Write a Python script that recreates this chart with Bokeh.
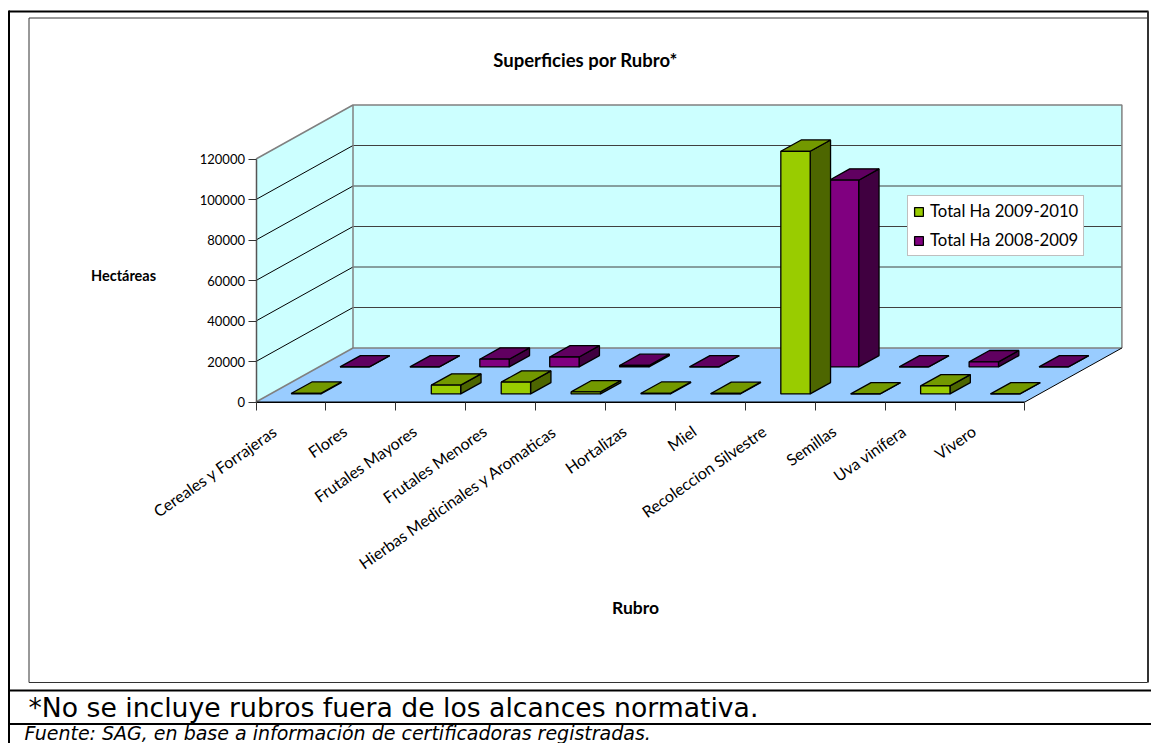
from bokeh.plotting import figure
from bokeh.embed import file_html
from bokeh.resources import INLINE
from bokeh.core.properties import value
from bokeh.models import (LinearAxis, FixedTicker, Range1d, Legend, LegendItem,
                          CustomJSTickFormatter, NumeralTickFormatter)

categories = ["Cereales y Forrajeras", "Flores", "Frutales Mayores", "Frutales Menores",
              "Hierbas Medicinales y Aromaticas", "Hortalizas", "Miel",
              "Recoleccion Silvestre", "Semillas", "Uva vinífera", "Vivero"]
ha_2009_2010 = [300, None, 4300, 5800, 1000, 300, 200, 119800, 0, 3950, 0]
ha_2008_2009 = [0, 0, 3800, 4900, 700, 0, None, 92200, 0, 2500, 0]
y_ticks = [0, 20000, 40000, 60000, 80000, 100000, 120000]
series_names = ["Total Ha 2009-2010", "Total Ha 2008-2009"]
green = dict(front="#99CC00", top="#739900", side="#4D6600")
purple = dict(front="#800080", top="#600060", side="#400040")

W, H = 1151, 743
PX_CAT = 69.9
PX_VAL = 243 / 120000
X0, Y0 = 255.5, 401.5
DEPTH_X = 97 / PX_CAT
DEPTH_Y = 54 / PX_VAL
N = len(categories)
Vmax = y_ticks[-1]

def X(px):
    return (px - X0) / PX_CAT

def Y(py):
    return (Y0 - py) / PX_VAL

p = figure(width=W, height=H, output_backend="svg", toolbar_location=None,
           x_range=Range1d(X(0), X(W)), y_range=Range1d(Y(H), Y(0)),
           x_axis_location=None, y_axis_location=None, min_border=0,
           outline_line_color=None, background_fill_color="white")
p.grid.visible = False

def proj(x, d, v):
    return x + d * DEPTH_X, v + d * DEPTH_Y

def poly(pts):
    return [a for a, _ in pts], [b for _, b in pts]

# walls and floor
sx, sy = poly([proj(0, 0, 0), proj(0, 1, 0), proj(0, 1, Vmax), proj(0, 0, Vmax)])
p.patch(sx, sy, fill_color="#CCFFFF", line_color=None)
bx, by = poly([proj(0, 1, 0), proj(N, 1, 0), proj(N, 1, Vmax), proj(0, 1, Vmax)])
p.patch(bx, by, fill_color="#CCFFFF", line_color=None)
fx, fy = poly([proj(0, 0, 0), proj(N, 0, 0), proj(N, 1, 0), proj(0, 1, 0)])
p.patch(fx, fy, fill_color="#99CCFF", line_color=None)

for t in y_ticks[1:-1]:
    a = proj(0, 0, t); b = proj(0, 1, t); c = proj(N, 1, t)
    p.line([a[0], b[0]], [a[1], b[1]], line_color="#000000", line_width=1)
    p.line([b[0], c[0]], [b[1], c[1]], line_color="#404040", line_width=1)
edge = "#808080"
p.line(*poly([proj(0, 0, 0), proj(0, 1, 0), proj(N, 1, 0)]), line_color=edge, line_width=1.5)
p.line(*poly([proj(0, 0, Vmax), proj(0, 1, Vmax), proj(N, 1, Vmax), proj(N, 1, 0)]), line_color=edge, line_width=1.5)
p.line(*poly([proj(0, 1, 0), proj(0, 1, Vmax)]), line_color=edge, line_width=1.5)
p.line(*poly([proj(0, 0, 0), proj(N, 0, 0), proj(N, 1, 0)]), line_color="#000000", line_width=1)

# bars
BAR_L, BAR_W = 0.30, 0.42
def bars(vals, d0, d1, col):
    fr, tp, sd = [], [], []
    for i, v in enumerate(vals):
        if v is None:
            continue
        a, b = i + BAR_L, i + BAR_L + BAR_W
        fr.append(poly([proj(a, d0, 0), proj(b, d0, 0), proj(b, d0, v), proj(a, d0, v)]))
        tp.append(poly([proj(a, d0, v), proj(b, d0, v), proj(b, d1, v), proj(a, d1, v)]))
        sd.append(poly([proj(b, d0, 0), proj(b, d1, 0), proj(b, d1, v), proj(b, d0, v)]))
    for faces, key in ((sd, "side"), (tp, "top"), (fr, "front")):
        r = p.patches([f[0] for f in faces], [f[1] for f in faces], fill_color=col[key],
                      line_color="#000000", line_width=1.3)
    return r

r_purple = bars(ha_2008_2009, 0.65, 0.86, purple)
r_green = bars(ha_2009_2010, 0.15, 0.36, green)

# axes
yax = LinearAxis(ticker=FixedTicker(ticks=y_ticks), fixed_location=0, bounds=(0, Vmax),
                 formatter=NumeralTickFormatter(format="0"),
                 major_label_text_font="Lato", major_label_text_font_size="13px",
                 major_label_text_color="#000000", major_tick_in=0, major_tick_out=8,
                 major_tick_line_color="#333333", minor_tick_line_color=None,
                 axis_line_color="#555555", axis_line_width=1.5, major_label_standoff=3)
p.add_layout(yax, "left")

xax = LinearAxis(ticker=FixedTicker(ticks=list(range(N + 1))), fixed_location=0, bounds=(0, N),
                 formatter=CustomJSTickFormatter(code="return ''"),
                 major_tick_in=0, major_tick_out=8, major_tick_line_color="#333333",
                 minor_tick_line_color=None, axis_line_color="#000000")
p.add_layout(xax, "below")

lab_ticks = [i + 0.27 for i in range(N)]
lab = LinearAxis(ticker=FixedTicker(ticks=lab_ticks), fixed_location=0,
                 formatter=CustomJSTickFormatter(args=dict(labels=categories), code="return labels[index]"),
                 major_label_orientation=0.61, major_label_text_font="Lato",
                 major_label_text_font_size="16px", major_label_text_color="#000000",
                 major_label_standoff=21, major_tick_line_color=None, minor_tick_line_color=None,
                 axis_line_color=None)
p.add_layout(lab, "below")

# titles
def txt(px, py, s, font, size, style="normal", align="center", color="#000000"):
    p.text([X(px)], [Y(py)], text=[s], text_font=value(font), text_font_size=value(size),
           text_font_style=style, text_align=align, text_baseline="middle", text_color=color)

txt(585, 59, "Superficies por Rubro*", "Lato", "18.5px", "bold")
txt(123, 275, "Hectáreas", "Lato", "14.5px", "bold")
txt(635, 607, "Rubro", "Lato", "17.5px", "bold")
txt(28, 707, "*No se incluye rubros fuera de los alcances normativa.", "DejaVu Sans", "26.65px", align="left")
txt(24, 732, "Fuente: SAG, en base a información de certificadoras registradas.", "DejaVu Sans", "19px", "italic", align="left")

# frames
def seg(x0, y0, x1, y1, color="#000000", w=2):
    p.line([X(x0), X(x1)], [Y(y0), Y(y1)], line_color=color, line_width=w)

seg(8.5, 11, 1148, 11)
seg(8.5, 10, 8.5, H)
seg(8, 690, W, 690)
seg(8, 723.5, W, 723.5)
seg(28.5, 17.5, 1147, 17.5, "#333333", 1)
seg(28.5, 17.5, 28.5, 682, "#333333", 1)
seg(28.5, 682, 1147, 682, "#333333", 1)
seg(1147.5, 11, 1147.5, 682, "#333333", 2)

legend = Legend(items=[LegendItem(label=series_names[0], renderers=[r_green]),
                       LegendItem(label=series_names[1], renderers=[r_purple])],
                location=(907, H - 256), label_text_font="Lato", label_text_font_size="16.7px",
                label_text_color="#000000", glyph_width=11, glyph_height=11, padding=5,
                spacing=9, margin=0, label_standoff=6, border_line_color="#808080",
                background_fill_color="white", background_fill_alpha=1)
p.add_layout(legend)

open("out.html", "w").write(file_html(p, INLINE))
